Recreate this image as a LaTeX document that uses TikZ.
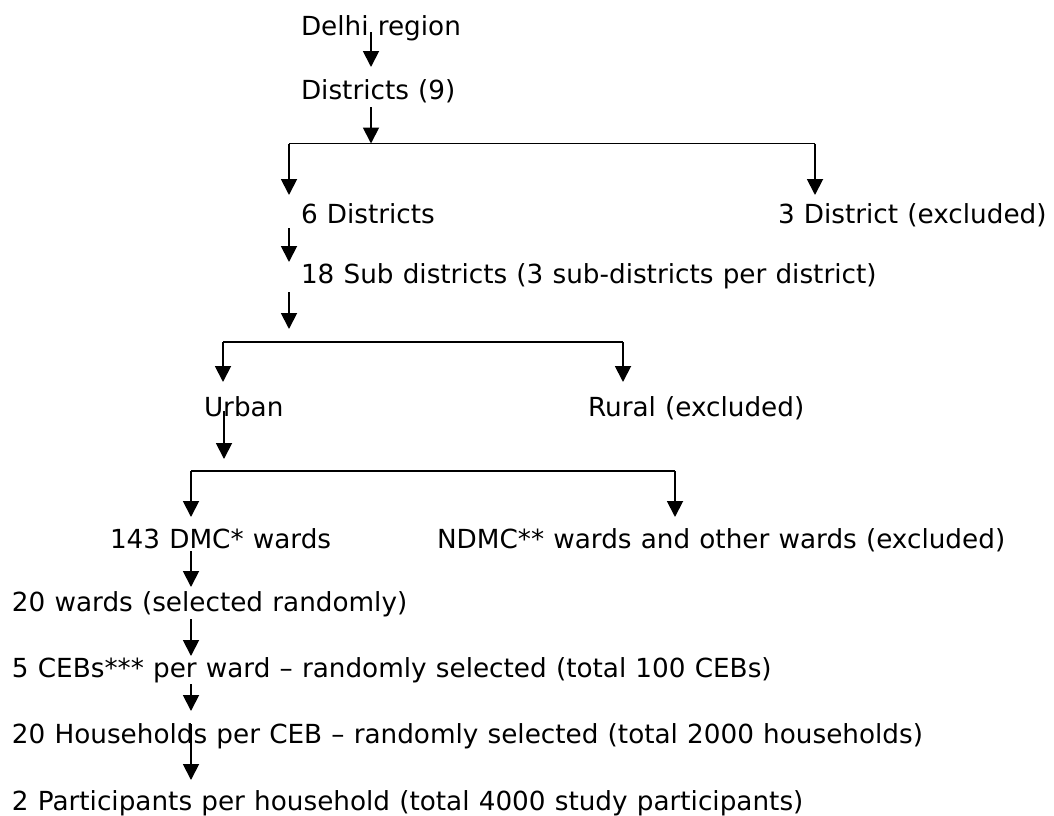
\documentclass[tikz,border=0pt]{standalone}
\usepackage{fontspec}
\setmainfont[WordSpace={1.1}]{DejaVu Sans}
\usetikzlibrary{arrows.meta}
\begin{document}
\begin{tikzpicture}[x=0.75pt,y=-0.75pt,
  lbl/.style={anchor=base west,inner sep=0pt,outer sep=0pt,font=\fontsize{19.7}{24}\selectfont,text=black},
  conn/.style={line width=1.4pt,draw=black},
  arr/.style={conn,-{Triangle[length=12pt,width=12pt]}}]
\useasboundingbox (0,0) rectangle (1054,815);
% text nodes
\node[lbl] (delhi) at (301,35) {Delhi region};
\node[lbl] (dist9) at (301,99) {Districts (9)};
\node[lbl] (dist6) at (301,223) {6 Districts};
\node[lbl] (dist3) at (778,223) {3 District (excluded)};
\node[lbl] (sub) at (301,283) {18 Sub districts (3 sub-districts per district)};
\node[lbl] (urban) at (204,416) {Urban};
\node[lbl] (rural) at (588,416) {Rural (excluded)};
\node[lbl] (dmc) at (110,548) {143 DMC* wards};
\node[lbl] (ndmc) at (437,548) {NDMC** wards and other wards (excluded)};
\node[lbl] (w20) at (12,611) {20 wards (selected randomly)};
\node[lbl] (ceb) at (12,677) {5 CEBs*** per ward – randomly selected (total 100 CEBs)};
\node[lbl] (hh) at (12,743) {20 Households per CEB – randomly selected (total 2000 households)};
\node[lbl] (part) at (12,810) {2 Participants per household (total 4000 study participants)};
% connector points
\coordinate (a1s) at (371,32);  \coordinate (a1e) at (371,67);
\coordinate (a2s) at (371,107); \coordinate (b1m) at (371,143.5);
\coordinate (b1l) at (289,143.5); \coordinate (b1r) at (815,143.5);
\coordinate (a3e) at (289,195); \coordinate (a4e) at (815,195);
\coordinate (a5s) at (289,228); \coordinate (a5e) at (289,262);
\coordinate (a6s) at (289,292); \coordinate (a6e) at (289,329);
\coordinate (b2l) at (223,342); \coordinate (b2r) at (623,342);
\coordinate (a7e) at (223,382); \coordinate (a8e) at (623,382);
\coordinate (a9s) at (224,411); \coordinate (a9e) at (224,459);
\coordinate (b3l) at (191,471); \coordinate (b3r) at (675,471);
\coordinate (a10e) at (191,517); \coordinate (a11e) at (675,517);
\coordinate (a12s) at (191,551); \coordinate (a12e) at (191,587);
\coordinate (a13s) at (191,619); \coordinate (a13e) at (191,656);
\coordinate (a14s) at (191,684); \coordinate (a14e) at (191,711);
\coordinate (a15s) at (191,724); \coordinate (a15e) at (191,780);
% connectors
\draw[arr] (a1s) -- (a1e);
\draw[arr] (a2s) -- (b1m);
\draw[conn] (b1l) -- (b1r);
\draw[arr] (b1l) -- (a3e);
\draw[arr] (b1r) -- (a4e);
\draw[arr] (a5s) -- (a5e);
\draw[arr] (a6s) -- (a6e);
\draw[conn] (b2l) -- (b2r);
\draw[arr] (b2l) -- (a7e);
\draw[arr] (b2r) -- (a8e);
\draw[arr] (a9s) -- (a9e);
\draw[conn] (b3l) -- (b3r);
\draw[arr] (b3l) -- (a10e);
\draw[arr] (b3r) -- (a11e);
\draw[arr] (a12s) -- (a12e);
\draw[arr] (a13s) -- (a13e);
\draw[arr] (a14s) -- (a14e);
\draw[arr] (a15s) -- (a15e);
\end{tikzpicture}
\end{document}
